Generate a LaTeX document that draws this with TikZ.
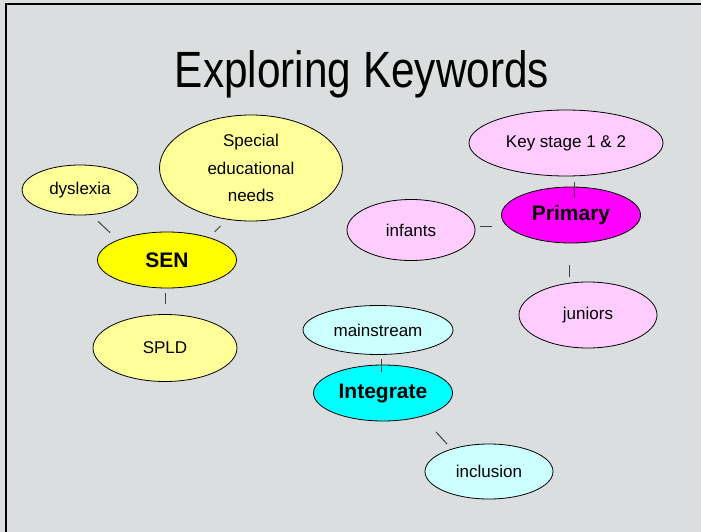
\documentclass[tikz,border=0pt]{standalone}
\usepackage{fontspec}
\setmainfont{Liberation Sans}
\usetikzlibrary{shapes.geometric}

\definecolor{slidegray}{RGB}{219,222,222}
\definecolor{senlight}{RGB}{255,255,153}
\definecolor{senfull}{RGB}{255,255,0}
\definecolor{primlight}{RGB}{255,204,255}
\definecolor{primfull}{RGB}{255,0,255}
\definecolor{intlight}{RGB}{204,255,255}
\definecolor{intfull}{RGB}{0,255,255}

\begin{document}
\begin{tikzpicture}[x=1pt, y=-1pt,
  keyword/.style={ellipse, draw=black, line width=0.8pt, inner sep=0pt, outer sep=0pt,
    align=center, font=\fontsize{17}{27.5}\selectfont},
  hub/.style={keyword, font=\fontsize{21}{25}\selectfont\bfseries},
  link/.style={draw=black!75, line width=1pt}]

\useasboundingbox (0,0) rectangle (701,532);
\fill[slidegray] (0,0) rectangle (701,532);
\draw[line width=2pt] (6,532) -- (6,4) -- (701,4);

\node[anchor=base, font=\fontsize{51}{60}\selectfont] (title) at (362,87.7) {\scalebox{0.83}[1]{Exploring Keywords}};

% SEN group
\node[hub, fill=senfull, minimum width=139pt, minimum height=56pt] (sen) at (167,260) {SEN};
\node[keyword, fill=senlight, minimum width=116pt, minimum height=50pt] (dys) at (80,190) {dyslexia};
\node[keyword, fill=senlight, minimum width=183pt, minimum height=106pt] (spec) at (251,168) {Special\\educational\\needs};
\node[keyword, fill=senlight, minimum width=144pt, minimum height=67pt] (spld) at (165,348) {SPLD};

% Primary group
\node[hub, fill=primfull, minimum width=139pt, minimum height=56pt] (prim) at (571,215) {Primary};
\node[keyword, fill=primlight, minimum width=194pt, minimum height=66pt] (key) at (566,143) {Key stage 1 \& 2};
\node[keyword, fill=primlight, minimum width=128pt, minimum height=61pt] (inf) at (411,230) {infants};
\node[keyword, fill=primlight, minimum width=138pt, minimum height=66pt] (jun) at (588,315) {juniors};

% Integrate group
\node[hub, fill=intfull, minimum width=139pt, minimum height=56pt] (integ) at (383,393) {Integrate};
\node[keyword, fill=intlight, minimum width=150pt, minimum height=49pt] (main) at (378,330) {mainstream};
\node[keyword, fill=intlight, minimum width=128pt, minimum height=55pt] (incl) at (489,471.5) {inclusion};

\draw[link, shorten <=9.6pt, shorten >=11pt] (dys.-66) -- (sen.158);
\draw[link, shorten <=8.2pt, shorten >=9.6pt] (sen.28.5) -- (spec.-115);
\draw[link, shorten <=5pt, shorten >=10.5pt] ([xshift=-2pt]sen.south) -- (spld.north);

\draw[link, shorten <=6pt, shorten >=-11pt] ([xshift=8pt]key.south) -- ([xshift=3pt]prim.north);
\draw[link, shorten <=5pt, shorten >=10pt] ([yshift=4pt]inf.east) -- ([yshift=-11pt]prim.west);
\draw[link, shorten <=22pt, shorten >=5pt] ([xshift=-2pt]prim.south) -- ([xshift=-19pt]jun.north);

\draw[link, shorten <=4.5pt, shorten >=-7pt] ([xshift=3pt]main.south) -- ([xshift=-2pt]integ.north);
\draw[link, shorten <=21.3pt, shorten >=7pt] (integ.-31) -- (incl.149);

\end{tikzpicture}
\end{document}
